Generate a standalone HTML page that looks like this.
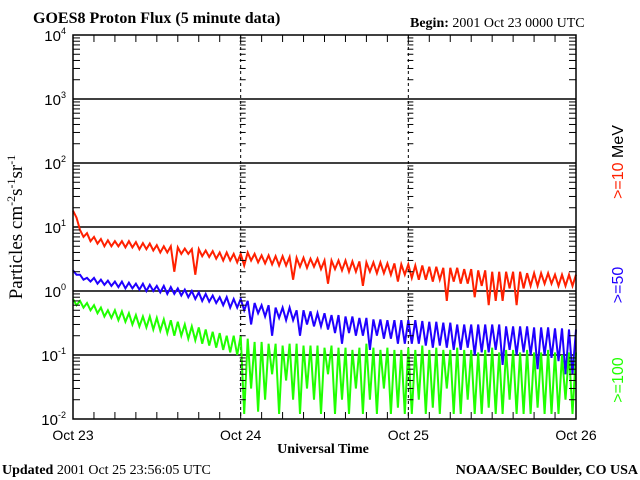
<!DOCTYPE html>
<html><head><meta charset="utf-8"><style>
html,body{margin:0;padding:0;background:#fff;}
svg{display:block;}
.ser{font-family:"Liberation Serif",serif;}
.san{font-family:"Liberation Sans",sans-serif;}
</style></head><body>
<svg id="chart" width="640" height="480" viewBox="0 0 640 480">
<text class="ser" x="33" y="23" font-size="16" font-weight="bold">GOES8 Proton Flux (5 minute data)</text>
<text class="ser" x="410" y="27" font-size="14"><tspan font-weight="bold">Begin:</tspan> 2001 Oct 23 0000 UTC</text>
<text class="ser" x="323" y="453" font-size="14" font-weight="bold" text-anchor="middle">Universal Time</text>
<text class="ser" x="2" y="474" font-size="14"><tspan font-weight="bold">Updated</tspan> 2001 Oct 25 23:56:05 UTC</text>
<text class="ser" x="638" y="474" font-size="14" font-weight="bold" text-anchor="end">NOAA/SEC Boulder, CO USA</text>
<text class="ser" transform="translate(22,227) rotate(-90)" font-size="19" text-anchor="middle">Particles cm<tspan dy="-7" font-size="12">-2</tspan><tspan dy="7">s</tspan><tspan dy="-7" font-size="12">-1</tspan><tspan dy="7">sr</tspan><tspan dy="-7" font-size="12">-1</tspan></text>
<text class="san" transform="translate(623,162) rotate(-90)" font-size="16" fill="#ff2000" text-anchor="middle">&gt;=10 <tspan fill="#000">MeV</tspan></text>
<text class="san" transform="translate(623,285) rotate(-90)" font-size="16" fill="#2000ff" text-anchor="middle">&gt;=50</text>
<text class="san" transform="translate(623,380) rotate(-90)" font-size="16" fill="#20ff00" text-anchor="middle">&gt;=100</text>
<g id="grid"></g>
<g id="series"></g>
<g id="axes"></g>
</svg>
<script>
const dayLabels=["Oct 23","Oct 24","Oct 25","Oct 26"];
const decades=[-2,-1,0,1,2,3,4];
const redHi=[18,9,8,7,6.5,6.2,6,6,6,5.8,5.6,5.5,5.2,5,5,4.8,4.6,4.5,4.5,4.3,4.2,4,4,3.8,
3.8,4,3.8,3.6,3.6,3.5,3.5,3.4,3.3,3.3,3.2,3.2,3,3,3,3,2.9,2.9,2.8,2.8,2.8,2.7,2.7,2.6,
2.6,2.5,2.5,2.4,2.4,2.3,2.3,2.3,2.2,2.2,2.1,2.1,2,2,2,2,2,1.9,1.9,1.9,1.9,1.8,1.8,1.8];
const redLo=[14,7,6,5.5,5,5,5,4.8,4.8,4.5,4.5,4.3,4,4,2,3.8,3.8,1.8,3.5,3.4,3.2,3,3,2.8,
2.5,3,2.8,2.7,2.6,2.5,2.5,1.5,2.4,2.3,2.4,2.2,1.3,2.2,2.1,2,2,1.2,2,1.9,1.9,1.8,1.4,1.8,
1.6,1.5,1.5,1.4,1.5,0.7,1.4,1.3,1.3,0.8,1.2,0.6,0.7,0.7,1.1,0.6,1.1,1.2,1.2,1.3,1.3,1.2,1.2,1.2];
const blueHi=[2.1,1.8,1.6,1.6,1.5,1.45,1.4,1.4,1.35,1.3,1.3,1.25,1.2,1.2,1.15,1.1,1.05,1,0.95,0.9,0.85,0.8,0.8,0.75,
0.75,0.7,0.65,0.6,0.6,0.55,0.55,0.55,0.5,0.5,0.48,0.45,0.45,0.42,0.42,0.4,0.4,0.38,0.38,0.36,0.36,0.35,0.35,0.35,
0.35,0.35,0.34,0.33,0.33,0.32,0.32,0.3,0.3,0.3,0.3,0.3,0.3,0.3,0.28,0.28,0.28,0.28,0.27,0.27,0.27,0.26,0.26,0.25];
const blueLo=[1.8,1.5,1.4,1.3,1.25,1.2,1.15,1.1,1.1,1.05,1,1,0.95,0.9,0.9,0.85,0.8,0.75,0.7,0.68,0.65,0.6,0.55,0.55,
0.5,0.3,0.45,0.4,0.2,0.38,0.35,0.35,0.2,0.3,0.28,0.28,0.25,0.22,0.15,0.22,0.2,0.2,0.12,0.2,0.18,0.18,0.15,0.15,
0.15,0.15,0.14,0.13,0.14,0.13,0.12,0.12,0.13,0.1,0.11,0.11,0.12,0.07,0.12,0.1,0.11,0.1,0.06,0.1,0.09,0.08,0.05,0.05];
const greenHi=[0.75,0.7,0.65,0.6,0.55,0.5,0.5,0.48,0.45,0.42,0.4,0.4,0.38,0.36,0.35,0.33,0.3,0.28,0.27,0.25,0.23,0.22,0.2,0.2,
0.2,0.18,0.16,0.16,0.15,0.15,0.14,0.15,0.15,0.14,0.14,0.14,0.13,0.14,0.13,0.13,0.12,0.13,0.15,0.13,0.12,0.13,0.12,0.12,
0.13,0.12,0.14,0.12,0.13,0.12,0.12,0.13,0.12,0.12,0.11,0.12,0.13,0.11,0.12,0.12,0.11,0.12,0.11,0.11,0.12,0.11,0.1,0.11];
const greenLo=[0.6,0.55,0.5,0.45,0.4,0.38,0.35,0.33,0.3,0.28,0.27,0.25,0.24,0.22,0.2,0.2,0.18,0.17,0.15,0.14,0.13,0.12,0.11,0.1,
0.012,0.03,0.013,0.02,0.05,0.012,0.04,0.02,0.012,0.03,0.02,0.012,0.05,0.012,0.02,0.012,0.03,0.012,0.02,0.012,0.03,0.012,0.015,0.012,
0.012,0.02,0.012,0.015,0.012,0.03,0.012,0.012,0.02,0.012,0.012,0.015,0.012,0.012,0.02,0.012,0.012,0.012,0.015,0.012,0.012,0.012,0.02,0.012];

const NS="http://www.w3.org/2000/svg";
const X0=73,X1=576,YT=35,YB=419;
function xScale(h){return X0+(X1-X0)*h/72;}
function yScale(v){return YB-64*(Math.log10(v)+2);}
function mk(tag,attrs,parent){const e=document.createElementNS(NS,tag);for(const k in attrs)e.setAttribute(k,attrs[k]);parent.appendChild(e);return e;}
const grid=document.getElementById('grid'),axes=document.getElementById('axes'),ser=document.getElementById('series');

decades.forEach(d=>{
  const y=yScale(Math.pow(10,d));
  if(d>-2&&d<4){const l=mk('line',{x1:X0,x2:X1,y1:y,y2:y,stroke:'#000','stroke-width':1.5},grid);
    
    }
  const t=mk('text',{x:66,y:y+6,'text-anchor':'end','font-size':15,'font-family':'Liberation Sans, sans-serif'},axes);
  
  
  t.innerHTML='10<tspan dy="-7" font-size="9">'+(d<0?'-':'')+Math.abs(d)+'</tspan>';
  if(d<4){for(let m=2;m<=9;m++){const ym=yScale(m*Math.pow(10,d));
    [[X0,X0+7],[X1-7,X1],[xScale(24)-1,xScale(24)+5],[xScale(48)-1,xScale(48)+5]].forEach(p=>{
      mk('line',{x1:p[0],x2:p[1],y1:ym,y2:ym,stroke:'#000','stroke-width':1},axes);});}}
});
[24,48].forEach(h=>{const l=mk('line',{x1:xScale(h),x2:xScale(h),y1:YT,y2:YB,stroke:'#000','stroke-width':1,'stroke-dasharray':'3,3'},grid);
  
  });
for(let h=3;h<72;h+=3){const x=xScale(h);
  mk('line',{x1:x,x2:x,y1:YB,y2:YB-7,stroke:'#000'},axes);
  mk('line',{x1:x,x2:x,y1:YT,y2:YT+7,stroke:'#000'},axes);}
dayLabels.forEach((s,i)=>{const t=mk('text',{x:xScale(i*24),y:440,'text-anchor':'middle','font-size':14,'font-family':'Liberation Sans, sans-serif'},axes);
  
  
  t.textContent=s;});
const fr=mk('rect',{x:X0,y:YT,width:X1-X0,height:YB-YT,fill:'none',stroke:'#000','stroke-width':1.5},axes);



function draw(hi,lo,color,name){
  const pts=[];
  for(let i=0;i<hi.length;i++){
    pts.push(xScale(i).toFixed(1)+','+yScale(hi[i]).toFixed(1));
    pts.push(xScale(i+0.5).toFixed(1)+','+yScale(lo[i]).toFixed(1));
  }
  pts.push(xScale(72).toFixed(1)+','+yScale(hi[hi.length-1]).toFixed(1));
  const p=mk('polyline',{points:pts.join(' '),fill:'none',stroke:color,'stroke-width':2,'stroke-linejoin':'miter'},ser);
  
  
}
draw(redHi,redLo,'#ff2000','series-10mev');
draw(blueHi,blueLo,'#2000ff','series-50mev');
draw(greenHi,greenLo,'#20ff00','series-100mev');
</script>
</body></html>
